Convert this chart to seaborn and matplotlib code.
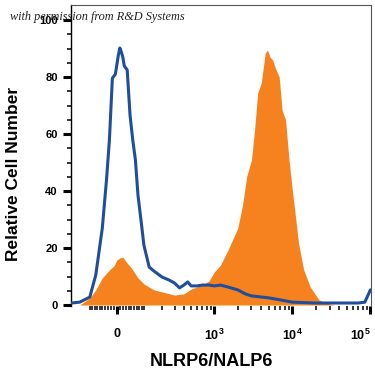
import numpy as np
import pandas as pd
import seaborn as sns
import matplotlib
matplotlib.use('Agg')
import matplotlib.pyplot as plt

# isotype / control (blue line)
ctrl_x = [-200, -150, -100, -75, -50, -35, -25, -15, -5, 5, 10, 15, 20, 25, 35, 45, 55, 65,
          75, 90, 100, 125, 150, 200, 250, 300, 350, 400, 450, 500, 600, 700, 850, 1000,
          1200, 1500, 2000, 2500, 3000, 4000, 5000, 7000, 10000, 20000, 50000, 70000,
          85000, 95000, 100000]
ctrl_y = [0.7, 1.0, 2.8, 10.5, 27, 44, 58, 79.6, 81, 87.7, 90.2, 88.8, 87, 83.9, 82.5, 66.7,
          57.9, 50.9, 38.6, 28, 21, 13.3, 11.9, 9.8, 8.8, 7.7, 6, 7, 8.1, 6.7, 6.7, 7, 7, 6.7,
          7, 6.3, 5.3, 3.9, 3.2, 2.8, 2.5, 1.8, 1.0, 0.7, 0.7, 0.7, 1.0, 3.9, 5.3]

# NLRP6 stained (orange fill)
stain_x = [-150, -100, -75, -50, -25, -10, 0, 10, 20, 35, 50, 75, 100, 150, 200, 300, 400,
           500, 700, 850, 1000, 1200, 1500, 2000, 2300, 2600, 3000, 3300, 3600, 4000, 4500,
           4800, 5200, 5600, 6200, 6800, 7400, 8200, 9000, 10000, 11000, 12000, 14000,
           17000, 22000, 27000, 35000]
stain_y = [0, 2.5, 5.3, 9.5, 12.3, 13.7, 15.8, 16.5, 16.8, 14.7, 13, 9.5, 7.4, 5.3, 4.6, 3.5,
           3.9, 5.6, 7, 8.4, 11.6, 14, 19.3, 27, 35, 45, 51, 62, 74.4, 77.9, 88.4, 89.5, 87,
           86, 82.5, 80, 68.4, 65, 52, 40.4, 30.9, 21.8, 12.3, 6.3, 1.8, 0.7, 0]

x_major = [0, 1000, 10000, 100000]
x_major_labels = ['0', r'$\mathbf{10}^{\mathbf{3}}$', r'$\mathbf{10}^{\mathbf{4}}$',
                  r'$\mathbf{10}^{\mathbf{5}}$']
x_minor = list(range(-100, 101, 10)) + [200, 300, 400, 500, 600, 700, 800, 900] + \
    [2000, 3000, 4000, 5000, 6000, 7000, 8000, 9000] + \
    [20000, 30000, 40000, 50000, 60000, 70000, 80000, 90000]
y_major = [0, 20, 40, 60, 80, 100]

ctrl = pd.DataFrame({'x': ctrl_x, 'y': ctrl_y})
stain = pd.DataFrame({'x': stain_x, 'y': stain_y})

sns.set_style('white')
plt.rcParams['font.family'] = ['Liberation Sans', 'DejaVu Sans']
plt.rcParams['mathtext.fontset'] = 'custom'
plt.rcParams['mathtext.bf'] = 'Liberation Sans:bold'
plt.rcParams['mathtext.rm'] = 'Liberation Sans:bold'
plt.rcParams['text.color'] = 'black'
plt.rcParams['axes.labelcolor'] = 'black'
plt.rcParams['xtick.color'] = 'black'
plt.rcParams['ytick.color'] = 'black'

fig = plt.figure(figsize=(3.75, 3.75), dpi=100)
ax = fig.add_axes([71/375, 69/375, 300/375, 301/375])

ax.fill_between(stain['x'], stain['y'], 0, color='#F5821F', linewidth=0, zorder=1)
sns.lineplot(data=ctrl, x='x', y='y', color='#1F4E9C', linewidth=2.2, ax=ax, zorder=3,
             sort=False, estimator=None)

ax.set_xscale('asinh', linear_width=113)
ax.set_xlim(-204, 102000)
ax.set_ylim(-0.35, 105.3)

ax.set_xticks(x_major)
ax.set_xticklabels(x_major_labels)
ax.set_xticks(x_minor, minor=True)
ax.set_yticks(y_major)
ax.set_yticks(np.arange(0, 105, 5), minor=True)

ax.tick_params(axis='both', which='major', direction='out', length=5.5, width=2.2,
               color='black', labelcolor='black', labelsize=8)
ax.tick_params(axis='y', which='major', pad=4)
ax.tick_params(axis='x', which='major', pad=10, labelsize=9)
ax.tick_params(axis='both', which='minor', direction='out', length=3, width=1.1,
               color='black')
ax.tick_params(axis='x', which='both', bottom=True)
ax.tick_params(axis='y', which='both', left=True)
for lab in ax.get_xticklabels() + ax.get_yticklabels():
    lab.set_fontweight('bold')
ax.get_xticklabels()[-1].set_horizontalalignment('right')

ax.spines['bottom'].set_visible(False)
ax.spines['left'].set_color('black')
ax.spines['left'].set_linewidth(1)
ax.spines['top'].set_color('#555555')
ax.spines['top'].set_linewidth(0.8)
ax.spines['right'].set_color('#555555')
ax.spines['right'].set_linewidth(0.8)

ax.set_xlabel('NLRP6/NALP6', fontsize=13, fontweight='bold', color='black')
ax.set_ylabel('Relative Cell Number', fontsize=12.5, fontweight='bold', color='black')
ax.xaxis.set_label_coords(0.467, -0.157)
ax.yaxis.set_label_coords(-0.165, 0.439)

fig.text(10/375, 1 - 17/375, 'with permission from R&D Systems', fontsize=8.8,
         style='italic', family='Liberation Serif', color='#222222', va='center',
         zorder=10)

fig.savefig('out.png', dpi=100)
